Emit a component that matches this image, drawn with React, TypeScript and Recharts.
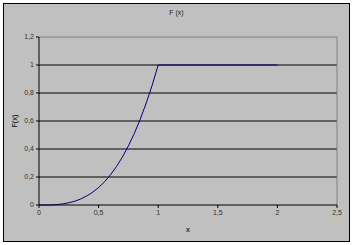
import React from 'react'
import { LineChart, Line, XAxis, YAxis, CartesianGrid, ReferenceLine, Label } from 'recharts'

const xs = [0, 0.05, 0.1, 0.15, 0.2, 0.25, 0.3, 0.35, 0.4, 0.45, 0.5, 0.55, 0.6, 0.65, 0.7, 0.75, 0.8, 0.85, 0.9, 0.95, 1, 2]
const fx = [0, 0, 0, 0.003, 0.008, 0.016, 0.027, 0.043, 0.064, 0.091, 0.125, 0.166, 0.216, 0.275, 0.343, 0.422, 0.512, 0.614, 0.729, 0.857, 1, 1]
const xTicks = [0, 0.5, 1, 1.5, 2, 2.5]
const yTicks = [0, 0.2, 0.4, 0.6, 0.8, 1, 1.2]

const data = xs.map((x, i) => ({ x, F: fx[i] }))

const fmt = (v: number) => String(v).replace('.', ',')
const font = { fontFamily: 'Liberation Sans, Arial, sans-serif', fontSize: 7, fill: '#333' }

export default function App() {
  return (
    <div style={{ position: 'absolute', left: 0, top: 0, width: 353, height: 245, background: '#fff' }}>
      <div style={{ position: 'absolute', left: 3, top: 3, width: 347, height: 239, boxSizing: 'border-box', border: '1px solid #000', background: '#c0c0c0' }} />
      <div style={{ position: 'absolute', left: 0, top: 9, width: 353, textAlign: 'center', fontFamily: 'Liberation Sans, Arial, sans-serif', fontSize: 7, color: '#222' }}>F (x)</div>
      <div style={{ position: 'absolute', left: 0, top: 0 }}>
        <LineChart width={353} height={245} data={data} margin={{ top: 37, right: 16, bottom: 0, left: 0 }}>
          <CartesianGrid vertical={false} stroke="#000" strokeWidth={1} fill="#c0c0c0" horizontalValues={[0.2, 0.4, 0.6, 0.8, 1]} />
          <ReferenceLine y={1.2} stroke="#808080" />
          <ReferenceLine x={2.5} stroke="#808080" />
          <XAxis dataKey="x" type="number" domain={[0, 2.5]} ticks={xTicks} tickFormatter={fmt}
            stroke="#000" tickSize={3} tick={font} height={40} interval={0}>
            <Label value="x" position="insideBottom" offset={13} style={{ ...font, fontWeight: 'bold' }} />
          </XAxis>
          <YAxis type="number" domain={[0, 1.2]} ticks={yTicks} tickFormatter={fmt}
            stroke="#000" tickSize={3} tick={font} width={39} interval={0}>
            <Label value="F(x)" angle={-90} position="insideLeft" offset={15} style={{ ...font, fontWeight: 'bold', textAnchor: 'middle' }} />
          </YAxis>
          <Line dataKey="F" stroke="#000080" strokeWidth={1} dot={false} isAnimationActive={false} type="linear" />
        </LineChart>
      </div>
    </div>
  )
}
